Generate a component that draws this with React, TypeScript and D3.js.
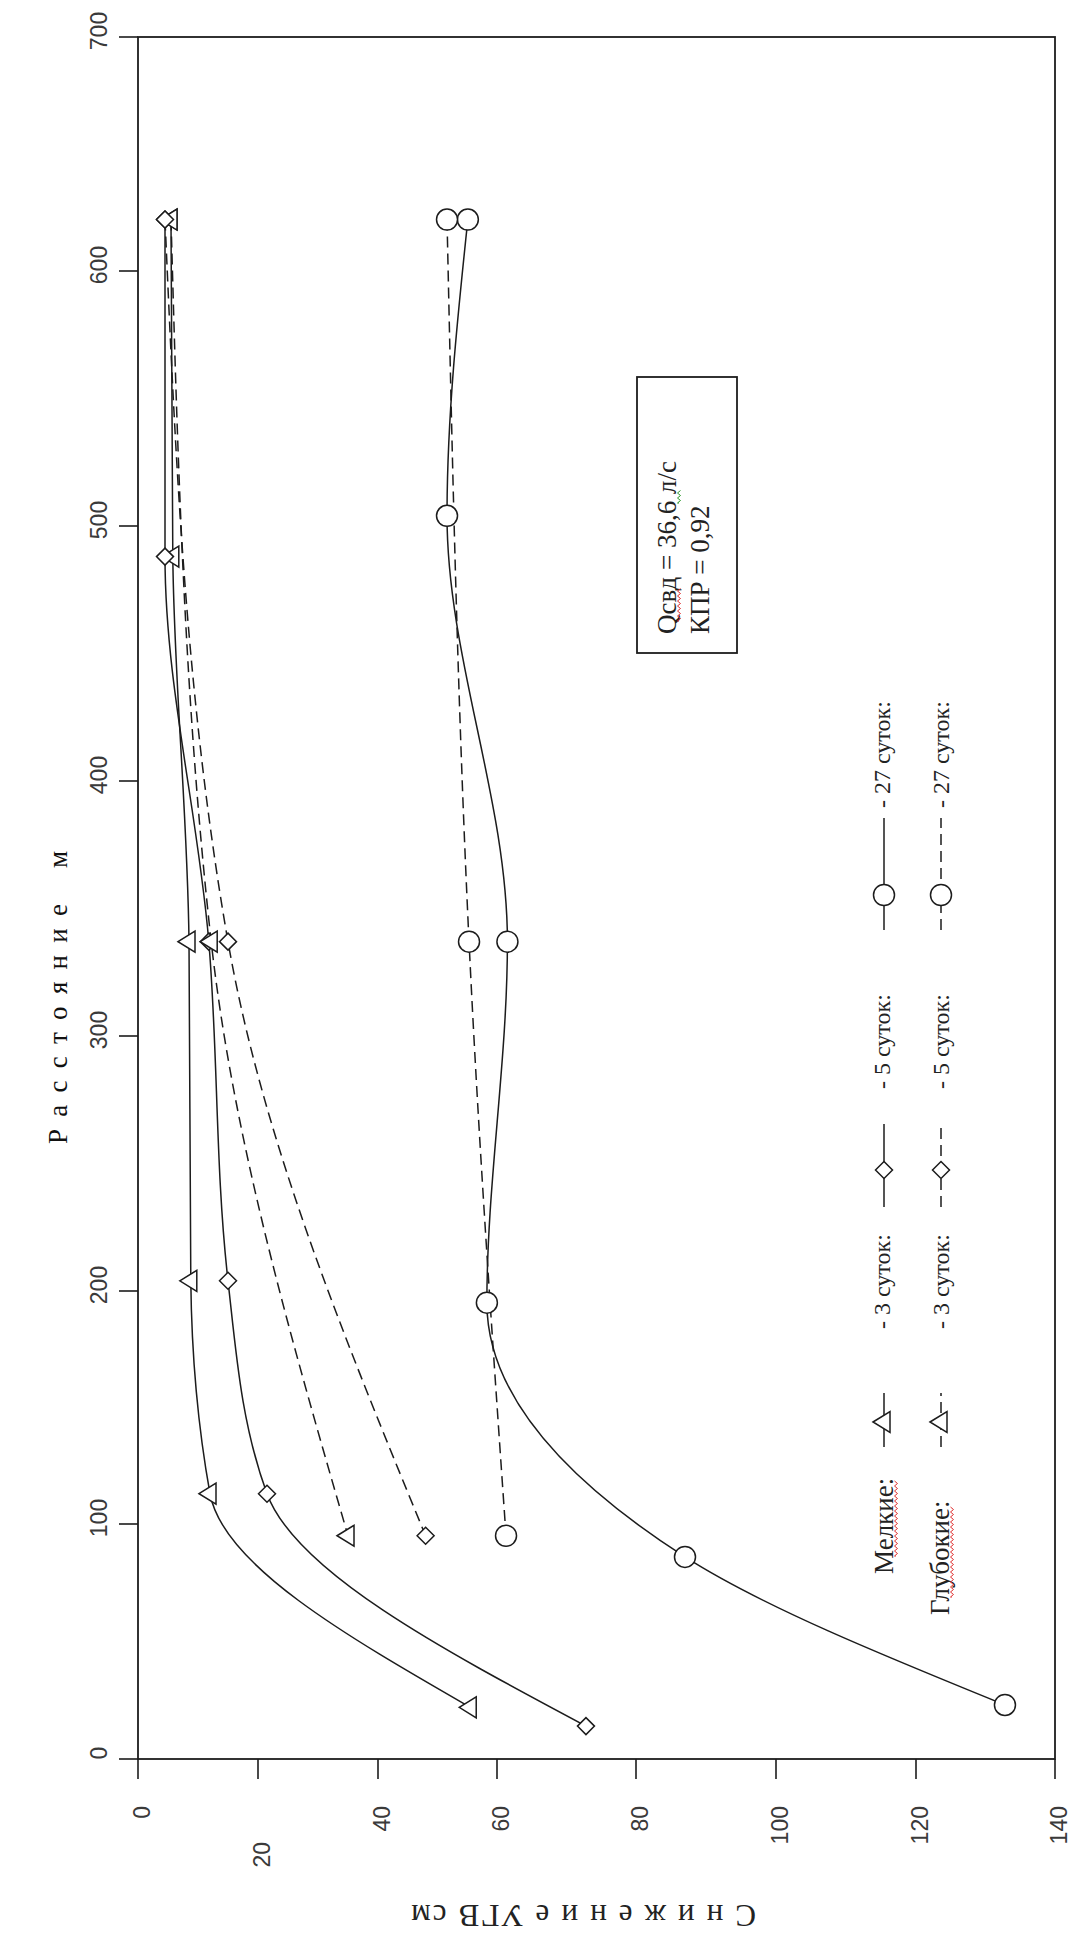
import React from 'react';
import * as d3 from 'd3';

// distance axis (m) and drawdown axis (cm); the source axes are unevenly spaced,
// so each scale is piecewise with the tick pixels
const distTicks = [0, 100, 200, 300, 400, 500, 600, 700];
const distTickPx = [1759, 1524, 1291, 1036, 781, 526, 271, 37];
const drawTicks = [0, 20, 40, 60, 80, 100, 120, 140];
const drawTickPx = [138, 258, 378, 497, 636, 776, 916, 1055];

// [distance, drawdown]
const shallow3 = [[22, 55.5], [113, 12], [204, 8.8], [337, 8.5], [488, 5.8], [622, 5.5]];
const shallow5 = [[14, 72.8], [113, 21.5], [204, 15], [337, 11.8], [488, 4.5], [622, 4.5]];
const shallow27 = [[23, 132.8], [86, 87], [195, 58.3], [337, 61.5], [504, 51.6], [622, 55.1]];
const deep3 = [[95, 35], [337, 12.2], [622, 5.5]];
const deep5 = [[95, 48], [337, 15], [622, 4.5]];
const deep27 = [[95, 61.3], [337, 55.3], [622, 51.6]];

const groupNames = ['Мелкие:', 'Глубокие:'];
const periodNames = ['- 3 суток:', '- 5 суток:', '- 27 суток:'];
const markerKinds = ['tri', 'dia', 'circ'];

const noteLines = ['Qсвд = 36,6 л/с', 'КПР = 0,92'];
const distTitle = 'Р а с с т о я н и е';
const distUnit = 'м';
const drawTitle = 'С н и ж е н и е   УГВ   см';

const INK = '#1c1c1c';
const DASH = '11,6';

function Marker({ kind, cx, cy }: { kind: string; cx: number; cy: number }) {
  const common = { fill: '#fff', stroke: INK, strokeWidth: 1.5 };
  if (kind === 'circ') return <circle cx={cx} cy={cy} r={10.5} {...common} />;
  if (kind === 'dia')
    return <path d="M0,-8.5L8.5,0L0,8.5L-8.5,0Z" transform={`translate(${cx},${cy})`} {...common} />;
  return <path d="M-11,0L6,-10.5L6,10.5Z" transform={`translate(${cx},${cy})`} {...common} />;
}

function squiggle(x: number, y0: number, y1: number) {
  let d = `M${x},${y0}`;
  let k = 0;
  for (let yy = y0; yy > y1; yy -= 2.5) {
    d += `L${x + (k % 2 ? 1.5 : -1.5)},${yy}`;
    k++;
  }
  return d;
}

export default function App() {
  const x = d3.scaleLinear().domain(drawTicks).range(drawTickPx);
  const y = d3.scaleLinear().domain(distTicks).range(distTickPx);

  // smoothed like the source; monotone along the distance axis keeps it from overshooting
  const line = d3
    .line<number[]>()
    .x(d => x(d[1]))
    .y(d => y(d[0]))
    .curve(d3.curveMonotoneY);

  const series = [
    { pts: shallow3, kind: 'tri', dashed: false },
    { pts: shallow5, kind: 'dia', dashed: false },
    { pts: shallow27, kind: 'circ', dashed: false },
    { pts: deep3, kind: 'tri', dashed: true },
    { pts: deep5, kind: 'dia', dashed: true },
    { pts: deep27, kind: 'circ', dashed: true },
  ];

  const left = x(0), right = x(140), top = y(700), bottom = y(0);

  // legend layout along the rotated axis
  const legendRows = [
    { lineX: 884, textX: 890, nameX: 893, nameY: 1574 },
    { lineX: 941, textX: 949, nameX: 949, nameY: 1615 },
  ];
  const legendSlots = [
    { y0: 1447, y1: 1393, ym: 1422, ty: 1329 },
    { y0: 1207, y1: 1124, ym: 1170, ty: 1089 },
    { y0: 930, y1: 818, ym: 895, ty: 808 },
  ];

  const serif = 'Liberation Serif, Times New Roman, serif';
  const sans = 'Liberation Sans, Arial, sans-serif';

  return (
    <svg
      width={1076}
      height={1940}
      style={{ position: 'absolute', left: 0, top: 0, background: '#fff' }}
    >
      <rect x={0} y={0} width={1076} height={1940} fill="#fff" />

      {/* frame */}
      <rect x={left} y={top} width={right - left} height={bottom - top} fill="none" stroke={INK} strokeWidth={1.8} />

      {/* distance axis (left) */}
      {distTicks.map(t => (
        <g key={'dt' + t}>
          <line x1={left - 19} x2={left} y1={y(t)} y2={y(t)} stroke={INK} strokeWidth={1.6} />
          <text
            transform={`translate(107,${y(t) - 6}) rotate(-90)`}
            textAnchor="middle"
            fontFamily={sans}
            fontSize={23}
            fill="#3a3a3a"
          >
            {t}
          </text>
        </g>
      ))}

      {/* drawdown axis (bottom) */}
      {drawTicks.map(t => (
        <g key={'wt' + t}>
          <line x1={x(t)} x2={x(t)} y1={bottom} y2={bottom + 20} stroke={INK} strokeWidth={1.6} />
          <text
            transform={`translate(${x(t) + 12},${t === 20 ? 1842 : 1806}) rotate(-90)`}
            textAnchor="end"
            fontFamily={sans}
            fontSize={23}
            fill="#3a3a3a"
          >
            {t}
          </text>
        </g>
      ))}

      {/* axis titles */}
      <text
        transform="translate(67,1144) rotate(-90)"
        fontFamily={serif}
        fontSize={27}
        fill="#111"
        textLength={240}
        lengthAdjust="spacing"
      >
        {distTitle}
      </text>
      <text transform="translate(67,868) rotate(-90)" fontFamily={serif} fontSize={27} fill="#111">
        {distUnit}
      </text>
      <text
        transform="translate(756,1905) rotate(180)"
        fontFamily={serif}
        fontSize={31}
        fill="#222"
        textLength={345}
        lengthAdjust="spacing"
      >
        {drawTitle}
      </text>

      {/* curves */}
      {series.map((s, i) => (
        <path
          key={'l' + i}
          d={line([...s.pts].reverse()) || ''}
          fill="none"
          stroke={INK}
          strokeWidth={1.5}
          strokeDasharray={s.dashed ? DASH : undefined}
        />
      ))}
      {series.map((s, i) => (
        <g key={'m' + i}>
          {s.pts.map((p, j) => (
            <Marker key={j} kind={s.kind} cx={x(p[1])} cy={y(p[0])} />
          ))}
        </g>
      ))}

      {/* note box */}
      <rect x={637} y={377} width={100} height={276} fill="#fff" stroke={INK} strokeWidth={1.8} />
      {noteLines.map((t, i) => (
        <text
          key={t}
          transform={`translate(${676 + i * 33},634) rotate(-90)`}
          fontFamily={serif}
          fontSize={27}
          fill="#222"
        >
          {t}
        </text>
      ))}
      <path d={squiggle(679, 621, 586)} fill="none" stroke="#e03030" strokeWidth={1} />
      <path d={squiggle(679, 503, 488)} fill="none" stroke="#2a9a2a" strokeWidth={1} />

      {/* legend */}
      {legendRows.map((row, r) => (
        <g key={'lg' + r}>
          <text
            transform={`translate(${row.nameX},${row.nameY}) rotate(-90)`}
            fontFamily={serif}
            fontSize={27}
            fill="#222"
          >
            {groupNames[r]}
          </text>
          <path
            d={squiggle(row.nameX + 3, row.nameY - 18, row.nameY - (r === 0 ? 95 : 110))}
            fill="none"
            stroke="#e03030"
            strokeWidth={1}
          />
          {legendSlots.map((sl, k) => (
            <g key={k}>
              <line
                x1={row.lineX}
                x2={row.lineX}
                y1={sl.y0}
                y2={sl.y1}
                stroke={INK}
                strokeWidth={1.5}
                strokeDasharray={r === 1 ? DASH : undefined}
              />
              <Marker kind={markerKinds[k]} cx={row.lineX} cy={sl.ym} />
              <text
                transform={`translate(${row.textX},${sl.ty}) rotate(-90)`}
                fontFamily={serif}
                fontSize={24}
                fill="#222"
              >
                {periodNames[k]}
              </text>
            </g>
          ))}
        </g>
      ))}
    </svg>
  );
}
